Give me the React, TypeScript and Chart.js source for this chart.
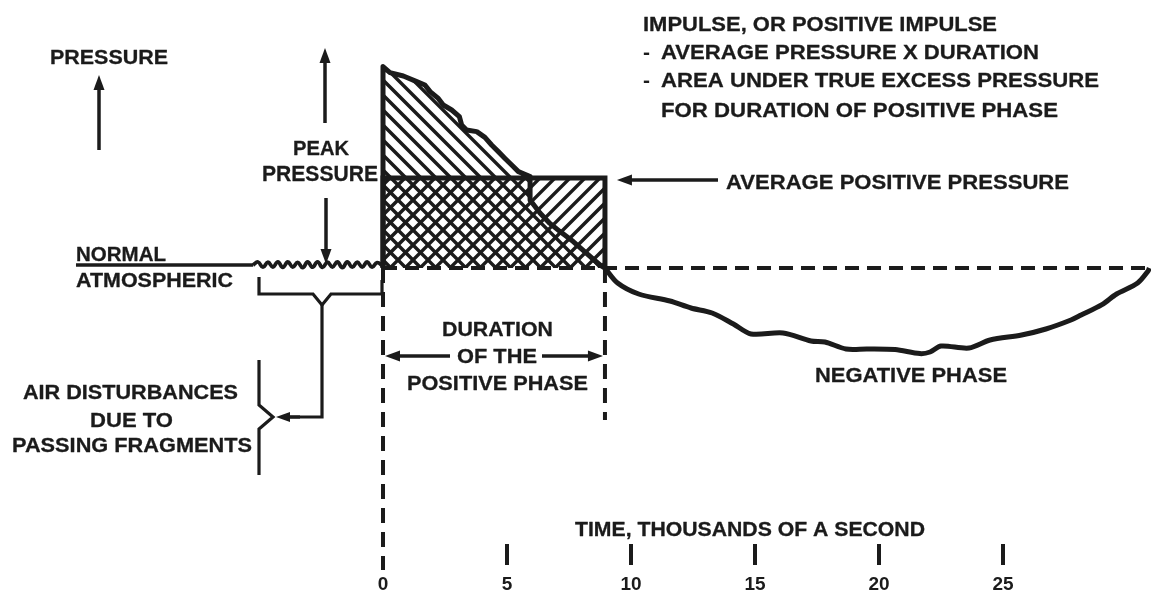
import { useEffect, useRef } from "react";
import { Chart, registerables } from "chart.js";

Chart.register(...registerables);

// ---------- DATA (time in ms, pressure in relative units; 0 = normal atmospheric) ----------
const positiveDuration = 8.95;
const averagePressure = 4.5;

const positiveX = [0, 0, 0.28, 0.82, 1.36, 1.69, 1.9, 2.23, 2.43, 2.77, 3.08, 3.17, 3.37, 3.78, 4.11, 4.38, 4.65, 4.92, 5.19, 5.46, 5.79, 5.93, 5.93, 6.33, 6.73, 7.14, 7.67, 8.21, 8.75, 8.95];
const positiveY = [0, 10.07, 9.77, 9.6, 9.32, 9.15, 8.82, 8.48, 8.15, 7.9, 7.57, 7.15, 6.9, 6.82, 6.53, 6.15, 5.82, 5.48, 5.15, 4.82, 4.65, 4.57, 3.4, 2.75, 2.23, 1.82, 1.32, 0.73, 0.15, 0];

const negativeX = [8.95, 9.46, 10.31, 11.57, 12.42, 13.27, 14.13, 14.84, 16.13, 17.26, 17.82, 18.67, 19.52, 20.65, 21.65, 22.06, 22.5, 23.63, 24.48, 25.75, 26.73, 27.74, 28.15, 28.99, 29.58, 30.43, 30.85, 30.9];
const negativeY = [0, -0.75, -1.3, -1.65, -2.0, -2.25, -2.8, -3.3, -3.25, -3.65, -3.7, -4.05, -4.05, -4.08, -4.28, -4.2, -3.9, -4.0, -3.6, -3.35, -3.05, -2.6, -2.35, -1.83, -1.3, -0.75, -0.15, 0];

const normalX = [-12.38, -5.24];
const normalY = [0.15, 0.15];

const waveX = [-5.24, -5.04, -4.84, -4.64, -4.44, -4.24, -4.04, -3.84, -3.64, -3.44, -3.24, -3.04, -2.84, -2.64, -2.44, -2.24, -2.04, -1.84, -1.64, -1.44, -1.24, -1.04, -0.84, -0.64, -0.44, -0.24, 0];
const waveY = [0.15, 0.3, 0.04, 0.29, 0.05, 0.31, 0.03, 0.3, 0.05, 0.28, 0.02, 0.3, 0.04, 0.31, 0.03, 0.29, 0.05, 0.3, 0.02, 0.3, 0.04, 0.29, 0.05, 0.3, 0.04, 0.27, 0.1];

const baselineX = [0, 30.9];
const baselineY = [0, 0];
const zeroLineY = [0, -15.1];
const endLineY = [0, -7.6];

const tickValues = [0, 5, 10, 15, 20, 25];
const tickLabels = ["0", "5", "10", "15", "20", "25"];

// ---------- LAYOUT ----------
const INK = "#1b1b1b";
const FONT = '"Liberation Sans", Arial, Helvetica, sans-serif';

type Label = { t: string; l: number; r: number; top: number; bot: number };
const labels: Label[] = [
  { t: "PRESSURE", l: 50, r: 168, top: 49, bot: 64 },
  { t: "PEAK", l: 293, r: 349, top: 140, bot: 155 },
  { t: "PRESSURE", l: 262, r: 378, top: 165, bot: 181 },
  { t: "NORMAL", l: 76, r: 166, top: 247, bot: 261 },
  { t: "ATMOSPHERIC", l: 76, r: 233, top: 273, bot: 287 },
  { t: "AIR DISTURBANCES", l: 23, r: 238, top: 385, bot: 399 },
  { t: "DUE TO", l: 90, r: 173, top: 412, bot: 427 },
  { t: "PASSING FRAGMENTS", l: 12, r: 252, top: 437, bot: 452 },
  { t: "DURATION", l: 442, r: 553, top: 321, bot: 336 },
  { t: "OF THE", l: 457, r: 537, top: 348, bot: 363 },
  { t: "POSITIVE PHASE", l: 407, r: 588, top: 375, bot: 390 },
  { t: "AVERAGE POSITIVE PRESSURE", l: 726, r: 1069, top: 174, bot: 189 },
  { t: "IMPULSE, OR POSITIVE IMPULSE", l: 643, r: 997, top: 16, bot: 31 },
  { t: "AVERAGE PRESSURE X DURATION", l: 661, r: 1039, top: 44, bot: 59 },
  { t: "AREA UNDER TRUE EXCESS PRESSURE", l: 661, r: 1099, top: 72, bot: 87 },
  { t: "FOR DURATION OF POSITIVE PHASE", l: 661, r: 1058, top: 102, bot: 117 },
  { t: "NEGATIVE PHASE", l: 815, r: 1007, top: 367, bot: 382 },
  { t: "TIME, THOUSANDS OF A SECOND", l: 575, r: 925, top: 522, bot: 536 },
];

function drawLabel(ctx: CanvasRenderingContext2D, lb: Label) {
  const size = (lb.bot - lb.top) / 0.716;
  ctx.font = `bold ${size}px ${FONT}`;
  const w = ctx.measureText(lb.t).width;
  const sx = (lb.r - lb.l) / w;
  ctx.save();
  ctx.translate(lb.l, lb.bot);
  ctx.scale(sx, 1);
  ctx.textBaseline = "alphabetic";
  ctx.textAlign = "left";
  ctx.lineWidth = 0.3;
  ctx.lineJoin = "round";
  ctx.fillText(lb.t, 0, 0);
  ctx.strokeText(lb.t, 0, 0);
  ctx.restore();
}

function arrow(ctx: CanvasRenderingContext2D, x1: number, y1: number, x2: number, y2: number, len = 15, half = 5.5) {
  const a = Math.atan2(y2 - y1, x2 - x1);
  const bx = x2 - Math.cos(a) * len;
  const by = y2 - Math.sin(a) * len;
  ctx.beginPath();
  ctx.moveTo(x1, y1);
  ctx.lineTo(bx + Math.cos(a) * 2, by + Math.sin(a) * 2);
  ctx.stroke();
  ctx.beginPath();
  ctx.moveTo(x2, y2);
  ctx.lineTo(bx - Math.sin(a) * half, by + Math.cos(a) * half);
  ctx.lineTo(bx + Math.sin(a) * half, by - Math.cos(a) * half);
  ctx.closePath();
  ctx.fill();
}

function poly(ctx: CanvasRenderingContext2D, pts: number[][]) {
  ctx.beginPath();
  pts.forEach((p, i) => (i ? ctx.lineTo(p[0], p[1]) : ctx.moveTo(p[0], p[1])));
  ctx.stroke();
}

const diagramPlugin = {
  id: "blastDiagram",
  beforeDatasetsDraw(chart: any) {
    const ctx: CanvasRenderingContext2D = chart.ctx;
    const X = (v: number) => chart.scales.x.getPixelForValue(v);
    const Y = (v: number) => chart.scales.y.getPixelForValue(v);
    const x0 = X(0);
    ctx.save();
    ctx.strokeStyle = INK;
    ctx.lineWidth = 3.4;
    // "\" hatch: area under the true pressure curve
    ctx.save();
    ctx.beginPath();
    ctx.moveTo(X(0), Y(0));
    positiveX.forEach((x, i) => ctx.lineTo(X(x), Y(positiveY[i])));
    ctx.closePath();
    ctx.clip();
    ctx.beginPath();
    for (let c = -400; c < 400; c += 15) {
      ctx.moveTo(x0 + c, 40);
      ctx.lineTo(x0 + c + 260, 300);
    }
    ctx.stroke();
    ctx.restore();
    // "/" hatch: average pressure x duration rectangle
    ctx.save();
    ctx.beginPath();
    ctx.rect(X(0), Y(averagePressure), X(positiveDuration) - X(0), Y(0) - Y(averagePressure));
    ctx.clip();
    ctx.beginPath();
    for (let c = -400; c < 400; c += 15) {
      ctx.moveTo(x0 + c, 300);
      ctx.lineTo(x0 + c + 260, 40);
    }
    ctx.stroke();
    ctx.restore();
    ctx.restore();
  },
  afterDatasetsDraw(chart: any) {
    const ctx: CanvasRenderingContext2D = chart.ctx;
    const X = (v: number) => chart.scales.x.getPixelForValue(v);
    const Y = (v: number) => chart.scales.y.getPixelForValue(v);
    ctx.save();
    ctx.fillStyle = INK;
    ctx.strokeStyle = INK;
    ctx.lineCap = "butt";
    ctx.lineJoin = "miter";

    labels.forEach((lb) => drawLabel(ctx, lb));
    ctx.font = `bold 21px ${FONT}`;
    ctx.fillText("-", 643, 59);
    ctx.fillText("-", 643, 87);

    // arrows
    ctx.lineWidth = 3.5;
    arrow(ctx, 99, 150, 99, 75);
    arrow(ctx, 325, 123, 325, 48);
    arrow(ctx, 326, 198, 326, Y(0) - 4);
    arrow(ctx, 450, 356, X(0) + 2, 356);
    arrow(ctx, 542, 356, X(positiveDuration) - 2, 356);
    arrow(ctx, 718, Y(averagePressure) + 2, X(positiveDuration) + 12, Y(averagePressure) + 2);

    // bracket under the disturbances
    ctx.lineWidth = 3.2;
    poly(ctx, [[259, 277], [259, 294], [313, 294], [322, 305], [331, 294], [X(0) - 1, 294], [X(0) - 1, 280]]);
    poly(ctx, [[322, 304], [322, 417], [285, 417]]);
    arrow(ctx, 300, 417, 276, 417, 14, 5);
    // curly brace
    poly(ctx, [[259, 360], [259, 405], [273, 417], [259, 429], [259, 475]]);

    // ticks and tick labels
    ctx.lineWidth = 4;
    ctx.font = `bold 19px ${FONT}`;
    ctx.textAlign = "center";
    ctx.textBaseline = "alphabetic";
    tickValues.forEach((v, i) => {
      const px = X(v);
      if (v !== 0) {
        ctx.beginPath();
        ctx.moveTo(px, 544);
        ctx.lineTo(px, 565);
        ctx.stroke();
      }
      ctx.fillText(tickLabels[i], px, 590);
    });
    ctx.restore();
  },
};

const pts = (xs: number[], ys: number[]) => xs.map((x, i) => ({ x, y: ys[i] }));

export default function App() {
  const ref = useRef<HTMLCanvasElement | null>(null);
  useEffect(() => {
    document.body.style.margin = "0";
    document.body.style.background = "#ffffff";
    const canvas = ref.current;
    if (!canvas) return;
    const base = { pointRadius: 0, fill: false, borderColor: INK, borderCapStyle: "butt" as const };
    const chart = new Chart(canvas, {
      type: "line",
      data: {
        datasets: [
          { ...base, label: "Baseline", data: pts(baselineX, baselineY), borderWidth: 4, borderDash: [14, 8] },
          { ...base, label: "Start", data: pts([0, 0], zeroLineY), borderWidth: 4, borderDash: [15, 9] },
          { ...base, label: "End of positive phase", data: pts([positiveDuration, positiveDuration], endLineY), borderWidth: 4, borderDash: [15, 9] },
          { ...base, label: "Normal atmospheric", data: pts(normalX, normalY), borderWidth: 3.5 },
          { ...base, label: "Air disturbances", data: pts(waveX, waveY), borderWidth: 3.8, tension: 0.45 },
          {
            ...base,
            label: "Average positive pressure",
            data: pts([0, 0, positiveDuration, positiveDuration], [0, averagePressure, averagePressure, 0]),
            borderWidth: 5,
            borderJoinStyle: "miter",
          },
          { ...base, label: "Positive phase", data: pts(positiveX, positiveY), borderWidth: 5, borderJoinStyle: "round" },
          { ...base, label: "Negative phase", data: pts(negativeX, negativeY), borderWidth: 5, tension: 0.3, borderJoinStyle: "round" },
        ],
      },
      options: {
        responsive: false,
        animation: false,
        devicePixelRatio: 1,
        parsing: true,
        layout: { padding: 0 },
        plugins: { legend: { display: false }, tooltip: { enabled: false } },
        elements: { line: { borderCapStyle: "butt" } },
        scales: {
          x: { type: "linear", display: false, min: -15.444, max: 30.968 },
          y: { type: "linear", display: false, min: -16.25, max: 13.4 },
        },
      },
      plugins: [diagramPlugin],
    });
    return () => chart.destroy();
  }, []);
  return (
    <div style={{ width: 1151, height: 593, background: "#fff" }}>
      <canvas ref={ref} width={1151} height={593} style={{ display: "block" }} />
    </div>
  );
}
